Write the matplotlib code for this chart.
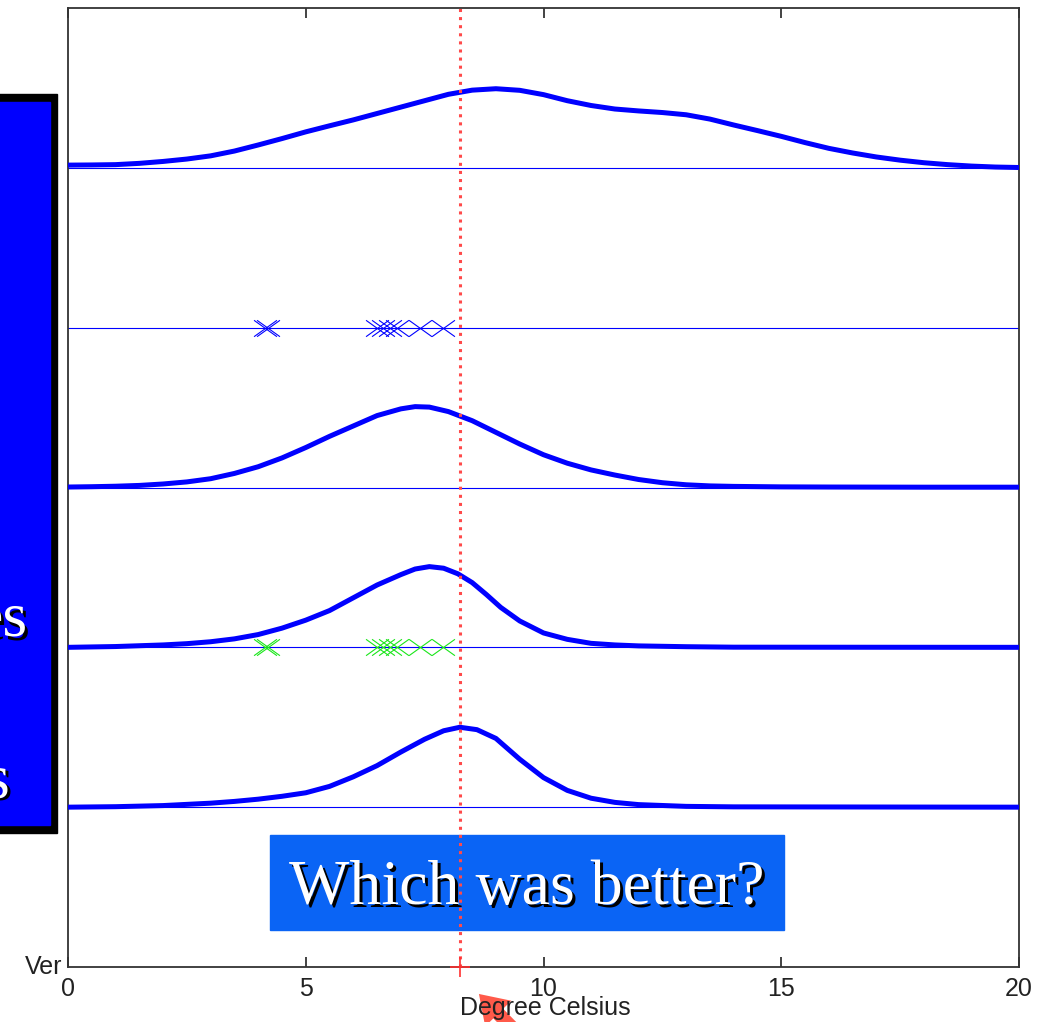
import numpy as np
import matplotlib
matplotlib.use("Agg")
import matplotlib.pyplot as plt
from matplotlib.patches import Rectangle
from matplotlib.path import Path

# density curves (x in degree Celsius, height above each baseline)
x_top = [0, 0.5, 1, 1.5, 2, 2.5, 3, 3.5, 4, 4.5, 5, 5.5, 6, 6.5, 7, 7.5, 8, 8.5,
         9, 9.5, 10, 10.5, 11, 11.5, 12, 12.5, 13, 13.5, 14, 14.5, 15, 15.5,
         16, 16.5, 17, 17.5, 18, 18.5, 19, 19.5, 20]
h_top = [0.017, 0.018, 0.02, 0.028, 0.04, 0.055, 0.075, 0.105, 0.143, 0.183,
         0.225, 0.263, 0.30, 0.34, 0.38, 0.42, 0.46, 0.486, 0.495, 0.485, 0.458,
         0.42, 0.39, 0.368, 0.356, 0.346, 0.332, 0.305, 0.268, 0.233, 0.197,
         0.158, 0.122, 0.093, 0.068, 0.048, 0.032, 0.02, 0.011, 0.005, 0.002]

x_mid = [0, 0.5, 1, 1.5, 2, 2.5, 3, 3.5, 4, 4.5, 5, 5.5, 6, 6.5, 7, 7.3, 7.6, 8,
         8.5, 9, 9.5, 10, 10.5, 11, 11.5, 12, 12.5, 13, 13.5, 14, 15, 16, 18, 20]
h_mid = [0.003, 0.005, 0.008, 0.013, 0.022, 0.035, 0.055, 0.088, 0.13, 0.185,
         0.25, 0.32, 0.385, 0.45, 0.492, 0.506, 0.503, 0.475, 0.418, 0.345,
         0.272, 0.205, 0.152, 0.11, 0.078, 0.05, 0.03, 0.017, 0.01, 0.007,
         0.004, 0.003, 0.002, 0.002]

x_post = [0, 1, 2, 2.5, 3, 3.5, 4, 4.5, 5, 5.5, 6, 6.5, 7, 7.3, 7.6, 7.9, 8.2,
          8.5, 8.8, 9.1, 9.5, 10, 10.5, 11, 11.5, 12, 13, 14, 20]
h_post = [0.0, 0.005, 0.015, 0.023, 0.035, 0.053, 0.08, 0.12, 0.17, 0.23, 0.31,
          0.39, 0.455, 0.49, 0.505, 0.495, 0.46, 0.405, 0.33, 0.25, 0.165, 0.09,
          0.05, 0.025, 0.015, 0.009, 0.004, 0.001, 0.0]

x_pred = [0, 1, 2, 3, 3.5, 4, 4.5, 5, 5.5, 6, 6.5, 7, 7.5, 7.9, 8.24, 8.6, 9,
          9.5, 10, 10.5, 11, 11.5, 12, 13, 14, 20]
h_pred = [0.0, 0.003, 0.01, 0.025, 0.036, 0.05, 0.068, 0.09, 0.13, 0.19, 0.26,
          0.345, 0.425, 0.478, 0.5, 0.485, 0.43, 0.3, 0.185, 0.105, 0.056,
          0.03, 0.016, 0.005, 0.002, 0.0]

# observed samples
samples = [4.15, 4.20, 6.49, 6.63, 6.77, 6.91, 7.40, 7.89]
truth = 8.24

fig = plt.figure(figsize=(10.39, 10.22), dpi=100)
ax = fig.add_axes([68 / 1039, 55 / 1022, 951 / 1039, 959 / 1022])
ax.set_xlim(0, 20)
ax.set_ylim(0, 6)

blue = (0, 0, 1)
for base in [1, 2, 3, 4, 5]:
    ax.axhline(base, color=blue, lw=0.8, zorder=2)

ax.plot(x_top, np.array(h_top) + 5, color=blue, lw=3.6, zorder=3)
ax.plot(x_mid, np.array(h_mid) + 3, color=blue, lw=3.6, zorder=3)
ax.plot(x_post, np.array(h_post) + 2, color=blue, lw=3.6, zorder=3)
ax.plot(x_pred, np.array(h_pred) + 1, color=blue, lw=3.6, zorder=3)

wide_x = Path([(-1.4, -1), (1.4, 1), (-1.4, 1), (1.4, -1)],
              [Path.MOVETO, Path.LINETO, Path.MOVETO, Path.LINETO])
ax.plot(samples, [4] * len(samples), ls="none", marker=wide_x, ms=16.5,
        mec=blue, mfc="none", mew=0.8, zorder=4)
ax.plot(samples, [2] * len(samples), ls="none", marker=wide_x, ms=16.5,
        mec=(0.1, 0.9, 0.1), mfc="none", mew=0.8, zorder=4)

# "Which was better?" box
ax.add_patch(Rectangle((4.25, 0.231), 10.81, 0.594, color="#0a64f5", zorder=5))
txt = "Which was better?"
ax.text(9.65 + 0.06, 0.49 - 0.018, txt, family="Liberation Serif", fontsize=46,
        color="black", ha="center", va="center", zorder=6)
ax.text(9.65, 0.49, txt, family="Liberation Serif", fontsize=46,
        color="white", ha="center", va="center", zorder=7)

ax.axvline(truth, color="#ff4a4a", ls=":", lw=2.2, zorder=8)
ax.plot([truth], [0], marker="+", ms=15, mew=1.2, color="#ff3030",
        clip_on=False, zorder=9)

ax.set_xticks([0, 5, 10, 15, 20])
ax.set_yticks([1, 2, 3, 4, 5])
ax.set_yticklabels([])
ax.tick_params(axis="x", direction="in", length=7, width=1.2, top=True,
               labelsize=18, pad=7, colors="#222222")
ax.tick_params(axis="y", length=0)
for lab in ax.get_xticklabels():
    lab.set_family("Liberation Sans")
for sp in ax.spines.values():
    sp.set_color("#333333")
    sp.set_linewidth(1.3)

fig.text(545 / 1039, 1 - 1008 / 1022, "Degree Celsius", family="Liberation Sans",
         fontsize=18, color="#222222", ha="center", va="center")
fig.text(62 / 1039, 1 - 967 / 1022, "Ver", family="Liberation Sans",
         fontsize=18, color="#222222", ha="right", va="center")

# left overlay box
def px_rect(x0, y0, x1, y1, **kw):
    return Rectangle((x0 / 1039, 1 - y1 / 1022), (x1 - x0) / 1039,
                     (y1 - y0) / 1022, transform=fig.transFigure, **kw)

fig.patches.append(px_rect(-10, 94, 57, 833, color="black", zorder=10))
fig.patches.append(px_rect(-10, 102, 50, 825, color=(0, 0, 1), zorder=11))
for s, xr, yb in [("es", 28, 636), ("s", 9, 797)]:
    fig.text((xr + 3) / 1039, 1 - (yb + 3) / 1022, s, family="Liberation Serif",
             fontsize=46, color="black", ha="right", va="baseline", zorder=12)
    fig.text(xr / 1039, 1 - yb / 1022, s, family="Liberation Serif",
             fontsize=46, color="white", ha="right", va="baseline", zorder=13)

# red arrow pointing at the true value
ax.annotate("", xy=(477, 1022 - 992), xytext=(540, 1022 - 1056),
            xycoords="figure pixels", textcoords="figure pixels",
            arrowprops=dict(arrowstyle="simple,head_width=1.2,head_length=0.9,tail_width=0.45",
                            color="#ff5a4a", mutation_scale=22, lw=0),
            annotation_clip=False)

fig.savefig("out.png", dpi=100)
